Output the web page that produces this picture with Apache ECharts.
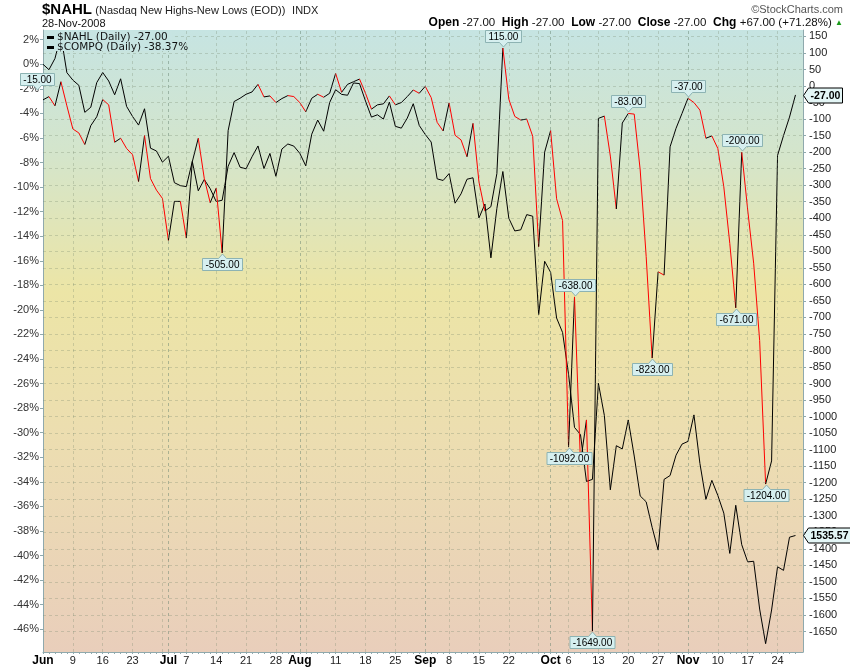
<!DOCTYPE html>
<html><head><meta charset="utf-8">
<script src="https://cdn.jsdelivr.net/npm/echarts@6/dist/echarts.min.js"></script>
<style>html,body{margin:0;padding:0;background:#fff}#c{width:850px;height:668px}</style>
</head><body><div id="c"></div>
<script>
// ---------------- data ----------------
// $NAHL daily values (Jun 2 2008 .. Nov 28 2008, trading-day index 0..126)
const NAHL = [
 -42,-32,-60,13,-60,-130,-142,-177,-120,-93,
 -41,-57,-170,-158,-189,-208,-289,-150,-280,-315,
 -340,-467,-349,-349,-460,-229,-158,-279,-353,-309,
 -505,-135,-47,-37,-25,-18,5,-33,-30,-50,
 -38,-29,-32,-50,-78,-37,-25,-34,-22,38,
 -19,5,13,21,-22,-70,-57,-54,-30,-57,
 -50,-32,-12,-22,-1,-35,-110,-136,-51,-149,
 -163,-214,-113,-290,-378,-365,-265,115,-40,-92,
 -103,-100,-152,-486,-200,-135,-341,-407,-1092,-638,
 -1140,-1010,-1649,-98,-91,-212,-372,-112,-83,-85,
 -254,-516,-823,-562,-572,-184,-128,-83,-37,-50,
 -73,-158,-151,-189,-305,-476,-671,-200,-375,-536,
 -770,-1204,-1134,-210,-150,-94,-27
];
// $COMPQ performance in % since Jun 2 2008
const COMPQ = [
 0.00,-0.44,0.47,2.34,-0.68,-1.29,-1.71,-3.91,-3.50,-1.49,
 -0.67,-1.36,-2.48,-1.18,-3.43,-4.25,-4.95,-3.62,-6.83,-7.06,
 -7.97,-7.49,-9.64,-9.88,-9.96,-7.91,-10.30,-9.38,-10.13,-11.18,
 -11.07,-8.30,-7.19,-8.38,-8.51,-7.53,-6.65,-8.49,-7.26,-9.12,
 -6.90,-6.49,-6.66,-7.25,-8.27,-5.69,-4.54,-5.45,-3.11,-2.07,
 -2.45,-2.52,-1.52,-1.57,-2.99,-4.30,-4.11,-4.46,-3.08,-5.05,
 -5.20,-4.38,-3.21,-4.98,-5.71,-6.33,-9.33,-9.46,-8.90,-11.31,
 -10.55,-9.36,-9.24,-12.51,-11.38,-15.76,-11.74,-8.73,-12.54,-13.57,
 -13.48,-12.24,-12.37,-20.38,-16.04,-16.94,-20.66,-21.84,-25.23,-29.57,
 -30.15,-33.97,-33.80,-25.98,-28.60,-34.65,-31.06,-31.32,-28.96,-31.90,
 -35.15,-35.63,-37.71,-39.56,-33.80,-33.49,-31.83,-30.93,-30.71,-28.55,
 -32.51,-35.43,-33.88,-35.11,-36.55,-39.83,-35.91,-39.12,-40.52,-40.47,
 -44.36,-47.18,-44.44,-40.92,-41.21,-38.51,-38.37
];
const COMPQ_LAST_PRICE = '1535.57';
const DATE_TEXT = '28-Nov-2008';

// x-axis labels (trading-day index) and grid lines
const xLabelIdx = [0,5,10,15,21,24,29,34,39,43,49,54,59,64,68,73,78,85,88,93,98,103,108,113,118,123];
const xLabelTxt = ['Jun','9','16','23','Jul','7','14','21','28','Aug','11','18','25','Sep','8','15','22','Oct','6','13','20','27','Nov','10','17','24'];
const monthLabelIdx = [0,21,43,64,85,108];
const vGridIdx = [5,10,15,20,21,24,29,34,39,43,44,49,54,59,64,68,73,78,83,85,88,93,98,103,108,113,118,123];

// y-axis tick labels
const leftTicks = [2,0,-2,-4,-6,-8,-10,-12,-14,-16,-18,-20,-22,-24,-26,-28,-30,-32,-34,-36,-38,-40,-42,-44,-46];
const rightTicks = [150,100,50,0,-50,-100,-150,-200,-250,-300,-350,-400,-450,-500,-550,-600,-650,-700,-750,-800,-850,-900,-950,-1000,-1050,-1100,-1150,-1200,-1250,-1300,-1350,-1400,-1450,-1500,-1550,-1600,-1650];

// value annotations on $NAHL (index -1 = previous bar just left of the chart)
const annotIdx  = [-1, 30, 77, 88, 89, 92, 98, 102, 108, 116, 117, 121];
const annotVal  = [-15, -505, 115, -1092, -638, -1649, -83, -823, -37, -671, -200, -1204];
const annotSide = ['top','bottom','top','bottom','top','bottom','top','bottom','top','bottom','top','bottom'];

// ---------------- chart ----------------
const FONT = '"Liberation Sans", Arial, sans-serif';
const X_MAX = 127.26;
const allDays = NAHL.map((v,i)=>i);
const axisCol = '#8fa9ad';
const gridCol = 'rgba(120,135,110,0.30)';
const monthCol = 'rgba(100,130,110,0.48)';

const chart = echarts.init(document.getElementById('c'), null, {renderer:'canvas'});

const option = {
  animation:false,
  textStyle:{fontFamily:FONT},
  grid:{left:43, right:47, top:30, bottom:16, show:true, borderWidth:0,
    backgroundColor:{type:'linear', x:0, y:0, x2:0, y2:1, colorStops:[
      {offset:0, color:'#c6e4e2'},{offset:0.2, color:'#d4e5cb'},{offset:0.42, color:'#ece5a6'},
      {offset:0.7, color:'#ecdcb2'},{offset:1, color:'#e9cebb'}]}},
  xAxis:{type:'value', min:0, max:X_MAX,
    axisLine:{show:true, onZero:false, lineStyle:{color:axisCol}},
    axisTick:{show:true, customValues:allDays, length:2, lineStyle:{color:axisCol}},
    splitLine:{show:false},
    axisLabel:{customValues:xLabelIdx, margin:3,
      formatter:function(v){const k=xLabelIdx.indexOf(Math.round(v)); if(k<0) return '';
        return monthLabelIdx.indexOf(xLabelIdx[k])>=0 ? '{m|'+xLabelTxt[k]+'}' : '{d|'+xLabelTxt[k]+'}';},
      rich:{m:{fontWeight:'bold', fontSize:12, color:'#000', fontFamily:FONT}, d:{fontSize:11, color:'#222', fontFamily:FONT}}}
  },
  yAxis:[
    {type:'value', position:'left', min:-47.858, max:2.793,
      axisLine:{show:true, onZero:false, lineStyle:{color:axisCol}},
      axisTick:{show:true, customValues:leftTicks, length:3, lineStyle:{color:axisCol}},
      axisLabel:{customValues:leftTicks, formatter:v=>v+'%', color:'#333', fontSize:11, margin:4},
      splitLine:{show:false}},
    {type:'value', position:'right', min:-1712, max:169.4,
      axisLine:{show:true, onZero:false, lineStyle:{color:axisCol}},
      axisTick:{show:true, customValues:rightTicks, length:3, lineStyle:{color:axisCol}},
      axisLabel:{customValues:rightTicks, formatter:v=>String(v), color:'#222', fontSize:11, margin:6},
      splitLine:{show:false}}
  ],
  series:[
    { // grid lines
      type:'line', yAxisIndex:1, data:NAHL.map((v,i)=>[i,v]), symbol:'none', silent:true,
      lineStyle:{opacity:0}, z:1,
      markLine:{silent:true, symbol:['none','none'], label:{show:false}, animation:false,
        data:[].concat(
          rightTicks.map(v=>({yAxis:v, lineStyle:{color:gridCol, type:[3,3], width:1}})),
          vGridIdx.map(i=>({xAxis:i, lineStyle:{color: monthLabelIdx.indexOf(i)>=0 ? monthCol : gridCol, type:[3,3], width:1}}))
        )}
    },
    { name:'$COMPQ', type:'line', yAxisIndex:0, data:COMPQ.map((v,i)=>[i,v]), symbol:'none',
      lineStyle:{color:'#000', width:1}, z:3 },
    { name:'$NAHL', type:'custom', yAxisIndex:1, data:NAHL.map((v,i)=>[i,v]), z:4, clip:true,
      renderItem:function(params, api){
        const i = params.dataIndex; if(i===0) return;
        const p0 = api.coord([i-1, NAHL[i-1]]), p1 = api.coord([i, api.value(1)]);
        return {type:'line', shape:{x1:p0[0], y1:p0[1], x2:p1[0], y2:p1[1]},
          style:{stroke: NAHL[i] >= NAHL[i-1] ? '#000' : '#ff0000', lineWidth:1}};
      }}
  ]
};
chart.setOption(option);

// ---------------- annotations / header ----------------
const mctx = document.createElement('canvas').getContext('2d');
function tw(t, font){ mctx.font = font; return mctx.measureText(t).width; }

const gfx = [];
// header
gfx.push({type:'text', x:42, y:2, z:100, style:{
  text:'{t|$NAHL} {s|(Nasdaq New Highs-New Lows (EOD))}  {s|INDX}',
  rich:{t:{fontFamily:FONT, fontWeight:'bold', fontSize:15, fill:'#000', verticalAlign:'bottom'},
        s:{fontFamily:FONT, fontSize:11, fill:'#222', verticalAlign:'bottom', padding:[0,0,1,0]}}}});
gfx.push({type:'text', x:843, y:4, z:100, style:{text:'\u00a9StockCharts.com', font:'11px '+FONT, fill:'#555', align:'right'}});
gfx.push({type:'text', x:42, y:18, z:100, style:{text:DATE_TEXT, font:'11px '+FONT, fill:'#111'}});
const last = NAHL[NAHL.length-1], prev = NAHL[NAHL.length-2];
const chg = last - prev, chgPct = chg/Math.abs(prev)*100;
const f2 = v => v.toFixed(2);
const sg = v => (v>=0?'+':'')+v.toFixed(2);
gfx.push({type:'text', x:843, y:17, z:100, style:{align:'right',
  text:'{b|Open} {n|'+f2(last)+'}  {b|High} {n|'+f2(last)+'}  {b|Low} {n|'+f2(last)+'}  {b|Close} {n|'+f2(last)+'}  {b|Chg} {n|'+sg(chg)+' ('+sg(chgPct)+'%)} {g|\u25B2}',
  rich:{b:{fontFamily:FONT, fontWeight:'bold', fontSize:12, fill:'#000'}, n:{fontFamily:FONT, fontSize:11.5, fill:'#111'}, g:{fontSize:8, fill:'#1a9a1a'}}}});

// legend (opaque box)
gfx.push({type:'rect', z:90, shape:{x:44, y:31, width:128, height:20}, style:{fill:'#c7e4e2'}});
const legendRows = ['$NAHL (Daily) '+f2(last), '$COMPQ (Daily) '+f2(COMPQ[COMPQ.length-1])+'%'];
legendRows.forEach((t,k)=>{
  gfx.push({type:'rect', z:100, shape:{x:47, y:36+k*10, width:7, height:3}, style:{fill:'#000'}});
  gfx.push({type:'text', z:100, x:57, y:37.5+k*10, style:{text:t, font:'10.5px "DejaVu Sans", '+FONT, fill:'#111', verticalAlign:'middle'}});
});

// NAHL value callouts
const AF = '10px '+FONT;
annotIdx.forEach((ix,k)=>{
  const p = chart.convertToPixel({xAxisIndex:0, yAxisIndex:1}, [ix, annotVal[k]]);
  const x = Math.round(p[0])+0.5, y = Math.round(p[1]);
  const txt = annotVal[k].toFixed(2);
  const w = Math.round(tw(txt, AF)) + 6, h = 12;
  const l = x - w/2, r = x + w/2;
  let t, b, pts;
  if(annotSide[k]==='top'){ b = y - 5.5; t = b - h; pts=[[l,t],[r,t],[r,b],[x+4,b],[x,y-1],[x-4,b],[l,b]]; }
  else { t = y + 5.5; b = t + h; pts=[[l,t],[x-4,t],[x,y+1],[x+4,t],[r,t],[r,b],[l,b]]; }
  gfx.push({type:'polygon', z:60, shape:{points:pts}, style:{fill:'#d6efef', stroke:'#8db3b3', lineWidth:1}});
  gfx.push({type:'text', z:61, x:x, y:(t+b)/2+0.5, style:{text:txt, font:AF, fill:'#000', align:'center', verticalAlign:'middle'}});
});

// last value tags on the right axis
function tag(yIdx, val, txt){
  const p = chart.convertToPixel({xAxisIndex:0, yAxisIndex:yIdx}, [X_MAX, val]);
  const x = Math.round(p[0]) + 0.5, y = Math.round(p[1]) + 0.5;
  const font = 'bold 10.5px '+FONT;
  const w = Math.round(tw(txt, font)) + 4;
  gfx.push({type:'polygon', z:70, shape:{points:[[x,y],[x+5,y-7.5],[x+5+w,y-7.5],[x+5+w,y+7.5],[x+5,y+7.5]]},
    style:{fill:'#e4f6f6', stroke:'#000', lineWidth:1}});
  gfx.push({type:'text', z:71, x:x+5+w/2, y:y+0.5, style:{text:txt, font:font, fill:'#000', align:'center', verticalAlign:'middle'}});
}
tag(1, last, f2(last));
tag(0, COMPQ[COMPQ.length-1], COMPQ_LAST_PRICE);

chart.setOption({graphic: gfx});
</script>
</body></html>
